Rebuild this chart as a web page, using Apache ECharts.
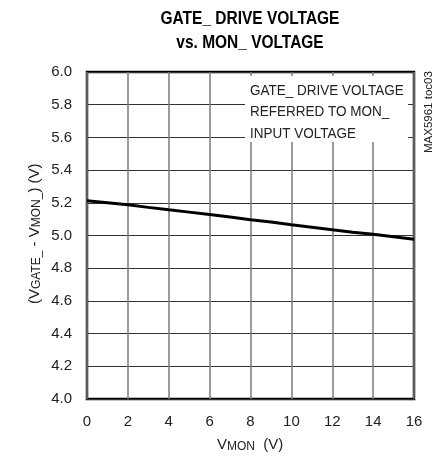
<!DOCTYPE html>
<html><head><meta charset="utf-8">
<script src="https://cdn.jsdelivr.net/npm/echarts@6/dist/echarts.min.js"></script>
<style>html,body{margin:0;padding:0;background:#fff}#c{width:432px;height:456px}</style>
</head><body><div id="c"></div>
<script>
var xValues = [0, 1, 2, 3, 4, 5, 6, 7, 8, 9, 10, 11, 12, 13, 14, 15, 16];
var yValues = [5.212, 5.200, 5.188, 5.172, 5.157, 5.143, 5.128, 5.113, 5.097, 5.082, 5.066, 5.051, 5.035, 5.020, 5.008, 4.993, 4.977];
var xTicks = ['0','2','4','6','8','10','12','14','16'];
var yTicks = ['4.0','4.2','4.4','4.6','4.8','5.0','5.2','5.4','5.6','5.8','6.0'];
var titleLines = ['GATE_ DRIVE VOLTAGE', 'vs. MON_ VOLTAGE'];
var noteLines = ['GATE_ DRIVE VOLTAGE', 'REFERRED TO MON_', 'INPUT VOLTAGE'];
var docId = 'MAX5961 toc03';

var FONT = '"Liberation Sans Narrow","Arial Narrow","Liberation Sans",sans-serif';
var chart = echarts.init(document.getElementById('c'));
var data = xValues.map(function(x, i){ return [x, yValues[i]]; });
chart.setOption({
  animation: false,
  grid: {left: 87, right: 18, top: 72, bottom: 57, show: true, borderColor: '#000', borderWidth: 2.5, backgroundColor: 'transparent'},
  xAxis: {
    type: 'value', min: 0, max: 16, interval: 2,
    axisLine: {show: false}, axisTick: {show: false},
    axisLabel: {color: '#222', fontSize: 15, fontFamily: FONT, margin: 15,
      formatter: function(v){ return xTicks[Math.round(v/2)]; }},
    splitLine: {show: true, lineStyle: {color: '#7a7a7a', width: 1.5}}
  },
  yAxis: {
    type: 'value', min: 4.0, max: 6.0, interval: 0.2,
    axisLine: {show: false}, axisTick: {show: false},
    axisLabel: {color: '#222', fontSize: 15, fontFamily: FONT, margin: 15,
      formatter: function(v){ return yTicks[Math.round((v-4)/0.2)]; }},
    splitLine: {show: true, lineStyle: {color: '#333', width: 1.2}}
  },
  series: [{
    type: 'line', data: data, showSymbol: false, symbol: 'none',
    lineStyle: {color: '#000', width: 3}, z: 5
  }],
  graphic: [
    {type: 'text', x: 250, y: 7, scaleX: 0.86, z: 11, style: {text: titleLines.join('\n'), fill: '#000', font: '900 18px ' + FONT, align: 'center', lineHeight: 24}},
    {type: 'rect', shape: {x: 245, y: 76, width: 163, height: 66}, style: {fill: '#fff'}, z: 10},
    {type: 'text', x: 250, y: 80, scaleX: 0.9, z: 11, style: {text: noteLines.join('\n'), fill: '#222', font: '15px ' + FONT, lineHeight: 21.5}},
    {type: 'text', x: 423, y: 153, rotation: Math.PI/2, z: 11, style: {text: docId, fill: '#222', font: '11.5px ' + FONT, align: 'left', verticalAlign: 'top'}},
    {type: 'text', x: 217, y: 437, z: 11, style: {
      text: '{a|V}{s|MON}{a|  (V)}',
      rich: {a: {fontSize: 15, fontFamily: FONT, fill: '#222', verticalAlign: 'top'}, s: {fontSize: 12, fontFamily: FONT, fill: '#222', verticalAlign: 'top', padding: [4,0,0,0]}}
    }},
    {type: 'text', x: 27, y: 304, rotation: Math.PI/2, z: 11, style: {
      text: '{a|(V}{s|GATE_}{a| - V}{s|MON_}{a|) (V)}',
      rich: {a: {fontSize: 15, fontFamily: FONT, fill: '#222', verticalAlign: 'top'}, s: {fontSize: 12, fontFamily: FONT, fill: '#222', verticalAlign: 'top', padding: [4,0,0,0]}}
    }}
  ]
});
</script></body></html>
